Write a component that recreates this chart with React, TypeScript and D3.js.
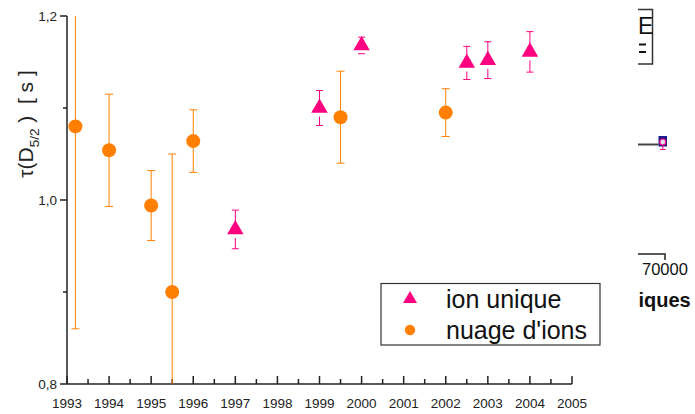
import React from "react";
import * as d3 from "d3";

// ---- data ----
const ionYears = [1997, 1999, 2000, 2002.5, 2003, 2004];
const ionTau = [0.968, 1.1, 1.168, 1.149, 1.152, 1.161];
const ionErr = [0.021, 0.019, 0.009, 0.018, 0.02, 0.022];

const cloudYears = [1993.2, 1994, 1995, 1995.5, 1996, 1999.5, 2002];
const cloudTau = [1.08, 1.054, 0.994, 0.9, 1.064, 1.09, 1.095];
const cloudErr = [0.22, 0.061, 0.038, 0.15, 0.034, 0.05, 0.026];

const xMajorTicks = [1993, 1994, 1995, 1996, 1997, 1998, 1999, 2000, 2001, 2002, 2003, 2004, 2005];
const yMajorTicks = [0.8, 1.0, 1.2];
const yMinorTicks = [0.9, 1.1];
const yTickLabels = ["0,8", "1,0", "1,2"];

const legendLabels = ["ion unique", "nuage d'ions"];

const PINK = "#FF0080";
const ORANGE = "#FF8000";
const FONT = "'Liberation Sans', Arial, sans-serif";

export default function App() {
  const W = 695;
  const H = 414;
  const x = d3.scaleLinear().domain([1993, 2005]).range([67, 572]);
  const y = d3.scaleLinear().domain([0.8, 1.2]).range([384, 16]);
  const clampY = (v: number) => Math.max(16, Math.min(384, v));

  const xMinor = d3.range(1993.5, 2005, 1);

  const tri = (cx: number, cy: number, side: number) => {
    const h = side * 0.866;
    return `M${cx},${cy - (2 / 3) * h} L${cx + side / 2},${cy + h / 3} L${cx - side / 2},${cy + h / 3} Z`;
  };

  return (
    <svg width={W} height={H} style={{ position: "absolute", left: 0, top: 0, background: "#fff" }} fontFamily={FONT}>
      <defs>
        <clipPath id="rightClip">
          <rect x={638} y={0} width={60} height={H} />
        </clipPath>
        <clipPath id="plotClip">
          <rect x={60} y={16} width={520} height={368} />
        </clipPath>
      </defs>

      {/* axes */}
      <g stroke="#222" strokeWidth={1.5} fill="none">
        <line x1={x(1993)} x2={x(2005)} y1={y(0.8)} y2={y(0.8)} />
        <line x1={x(1993)} x2={x(1993)} y1={y(0.8)} y2={y(1.2)} />
        {xMajorTicks.map((t) => (
          <line key={"xm" + t} x1={x(t)} x2={x(t)} y1={y(0.8)} y2={y(0.8) - 8} />
        ))}
        {xMinor.map((t) => (
          <line key={"xn" + t} x1={x(t)} x2={x(t)} y1={y(0.8)} y2={y(0.8) - 5} />
        ))}
        {yMajorTicks.map((t) => (
          <line key={"ym" + t} x1={x(1993) - 7} x2={x(1993)} y1={y(t)} y2={y(t)} />
        ))}
        {yMinorTicks.map((t) => (
          <line key={"yn" + t} x1={x(1993) - 4} x2={x(1993)} y1={y(t)} y2={y(t)} />
        ))}
      </g>
      <g fill="#222" fontSize={13.5}>
        {xMajorTicks.map((t) => (
          <text key={"xl" + t} x={x(t)} y={407.5} textAnchor="middle">
            {t}
          </text>
        ))}
        {yMajorTicks.map((t, i) => (
          <text key={"yl" + t} x={57} y={y(t) + 5} textAnchor="end">
            {yTickLabels[i]}
          </text>
        ))}
      </g>

      {/* y axis title */}
      <text transform="translate(33,124) rotate(-90)" textAnchor="middle" fontSize={21} fill="#222">
        <tspan>τ(D</tspan>
        <tspan fontSize={13.5} dy={6}>5/2</tspan>
        <tspan dy={-6}>{"\u00a0)\u00a0\u00a0[\u00a0s\u00a0]"}</tspan>
      </text>

      {/* data */}
      <g clipPath="url(#plotClip)">
        {/* cloud error bars */}
        {cloudYears.map((yr, i) => {
          const cx = x(yr);
          const top = y(cloudTau[i] + cloudErr[i]);
          const bot = y(cloudTau[i] - cloudErr[i]);
          return (
            <g key={"ce" + i} stroke={ORANGE} strokeWidth={1}>
              <line x1={cx} x2={cx} y1={clampY(top)} y2={clampY(bot)} />
              {top >= 16 && <line x1={cx - 4} x2={cx + 4} y1={top} y2={top} />}
              {bot <= 384 && <line x1={cx - 4} x2={cx + 4} y1={bot} y2={bot} />}
            </g>
          );
        })}
        {cloudYears.map((yr, i) => (
          <circle key={"cc" + i} cx={x(yr)} cy={y(cloudTau[i])} r={7} fill={ORANGE} />
        ))}

        {/* ion error bars */}
        {ionYears.map((yr, i) => {
          const cx = x(yr);
          const cy = y(ionTau[i]);
          const top = y(ionTau[i] + ionErr[i]);
          const bot = y(ionTau[i] - ionErr[i]);
          return (
            <g key={"ie" + i} stroke={PINK} strokeWidth={1}>
              <line x1={cx} x2={cx} y1={top} y2={cy} />
              <line x1={cx - 3.5} x2={cx + 3.5} y1={top} y2={top} />
              {bot > cy + 8.6 && <line x1={cx} x2={cx} y1={cy + 8.6} y2={bot} />}
              <line x1={cx - 3.5} x2={cx + 3.5} y1={bot} y2={bot} />
            </g>
          );
        })}
        {ionYears.map((yr, i) => (
          <path key={"it" + i} d={tri(x(yr), y(ionTau[i]), 16.5)} fill={PINK} />
        ))}
      </g>

      {/* legend */}
      <rect x={381} y={283.5} width={219} height={61.5} fill="#fff" stroke="#333" strokeWidth={1.2} />
      <path d={tri(410, 299, 14)} fill={PINK} />
      <circle cx={410} cy={330} r={5.2} fill={ORANGE} />
      <text x={446} y={308} fontSize={25} fill="#111">
        {legendLabels[0]}
      </text>
      <text x={446} y={338.5} fontSize={25} fill="#111">
        {legendLabels[1]}
      </text>

      {/* partially visible neighbouring chart */}
      <g clipPath="url(#rightClip)">
        <path d="M636,9.5 H652.5 V64 H636" fill="none" stroke="#333" strokeWidth={1.5} />
        <text x={638} y={33.5} fontSize={23} fill="#111">E</text>
        <line x1={639} x2={646} y1={44.5} y2={44.5} stroke="#111" strokeWidth={2} />
        <line x1={639} x2={646} y1={52} y2={52} stroke="#111" strokeWidth={2} />
        <line x1={636} x2={658.5} y1={144.5} y2={144.5} stroke="#444" strokeWidth={2} />
        <rect x={658.5} y={136} width={8.5} height={10.5} fill="#1a1a8c" />
        <circle cx={662.8} cy={142} r={3} fill="#dde" stroke={PINK} strokeWidth={1.2} />
        <line x1={662.8} x2={662.8} y1={145} y2={149.5} stroke={PINK} strokeWidth={1} />
        <line x1={660} x2={665.5} y1={149.5} y2={149.5} stroke={PINK} strokeWidth={1} />
        <path d="M636,254 H665 V260" fill="none" stroke="#222" strokeWidth={1.5} />
        <text x={642} y={275} fontSize={16.5} fill="#111">70000</text>
        <text x={638.5} y={306.5} fontSize={20} fontWeight="bold" fill="#111">iques</text>
      </g>
    </svg>
  );
}
